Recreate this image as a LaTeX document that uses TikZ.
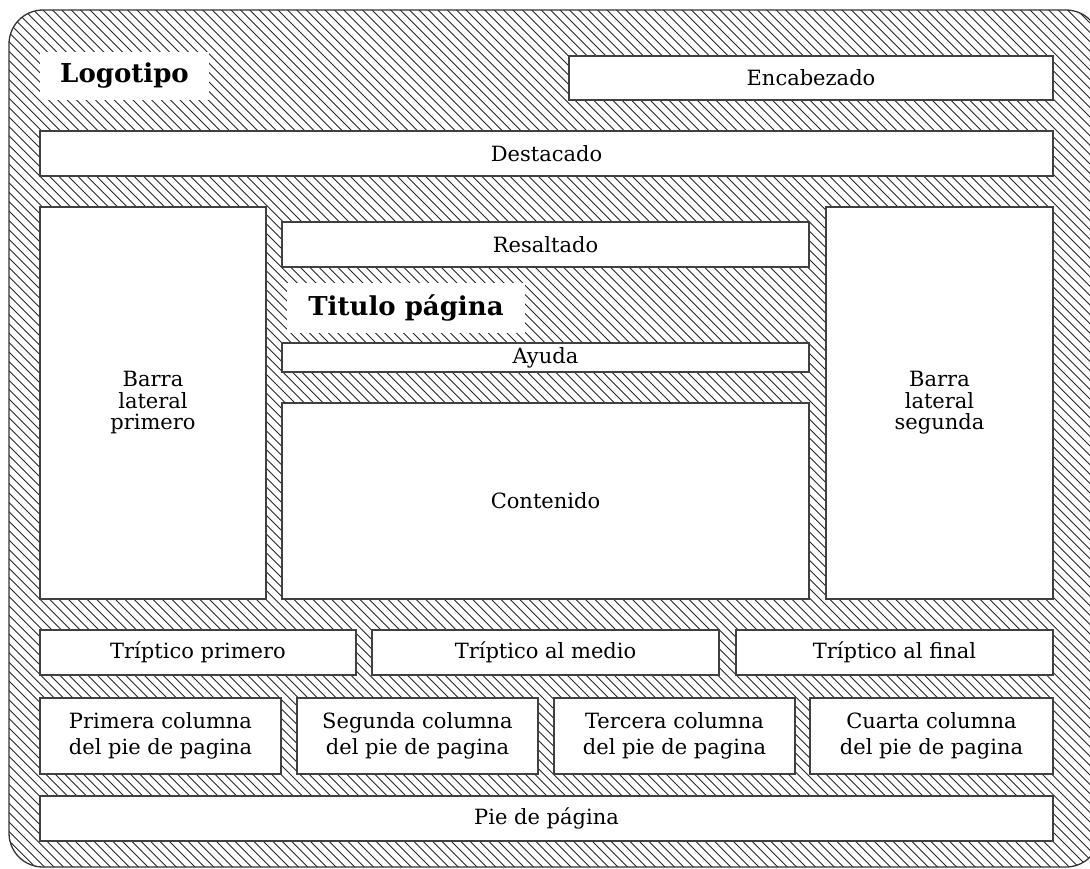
\documentclass[tikz,border=0pt]{standalone}
\usepackage{fontspec}
\setmainfont{DejaVu Serif}

\begin{document}
\begin{tikzpicture}[x=1pt, y=-1pt,
        hatch/.style={draw=black!85, line width=0.9pt},
        region/.style={draw=black!75, line width=1.2pt, fill=white,
                       inner sep=0pt, outer sep=0pt, align=center,
                       font=\fontsize{21}{21.5}\selectfont},
        twolines/.style={font=\fontsize{21}{26}\selectfont},
        label/.style={fill=white, inner sep=0pt, outer sep=0pt,
                      font=\fontsize{26}{30}\selectfont\bfseries}]
        \useasboundingbox (0,0) rectangle (1090,868);
        % fondo rayado
        \begin{scope}
            \clip[rounded corners=34pt] (9,10) rectangle (1100,867);
            \foreach \i in {-860,-850.6,...,1100}
                \draw[hatch] (\i,0) -- ++(880,880);
        \end{scope}
        \draw[draw=black!80, line width=1.3pt, rounded corners=34pt] (9,10) rectangle (1100,867);
        % cabecera
        \node[label, minimum width=169pt, minimum height=48pt] (logo) at (124.5,76) {Logotipo};
        \node[region, minimum width=484pt, minimum height=44pt] (encabezado) at (811,78) {Encabezado};
        \node[region, minimum width=1013pt, minimum height=45pt] (destacado) at (546.5,153.5) {Destacado};
        % zona central
        \node[region, minimum width=226pt, minimum height=392pt] (barra1) at (153,403) {Barra\\lateral\\primero\vphantom{g}};
        \node[region, minimum width=527pt, minimum height=45pt] (resaltado) at (545.5,244.5) {Resaltado};
        \node[label, minimum width=238pt, minimum height=50pt] (titulo) at (406,308) {Titulo página};
        \node[region, minimum width=527pt, minimum height=29pt] (ayuda) at (545.5,357.5) {Ayuda};
        \node[region, minimum width=527pt, minimum height=196pt] (contenido) at (545.5,501) {Contenido};
        \node[region, minimum width=227pt, minimum height=392pt] (barra2) at (939.5,403) {Barra\\lateral\\segunda};
        % tripticos
        \node[region, minimum width=316pt, minimum height=45pt] (trip1) at (198,652.5) {Tríptico primero};
        \node[region, minimum width=347pt, minimum height=45pt] (trip2) at (545.5,652.5) {Tríptico al medio};
        \node[region, minimum width=317pt, minimum height=45pt] (trip3) at (894.5,652.5) {Tríptico al final};
        % pie
        \node[region, twolines, minimum width=241pt, minimum height=76pt] (col1) at (160.5,736) {Primera columna\\del pie de pagina};
        \node[region, twolines, minimum width=241pt, minimum height=76pt] (col2) at (417.5,736) {Segunda columna\\del pie de pagina};
        \node[region, twolines, minimum width=241pt, minimum height=76pt] (col3) at (674.5,736) {Tercera columna\\del pie de pagina};
        \node[region, twolines, minimum width=243pt, minimum height=76pt] (col4) at (931.5,736) {Cuarta columna\\del pie de pagina};
        \node[region, minimum width=1013pt, minimum height=45pt] (pie) at (546.5,818.5) {Pie de página};
    \end{tikzpicture}
\end{document}
